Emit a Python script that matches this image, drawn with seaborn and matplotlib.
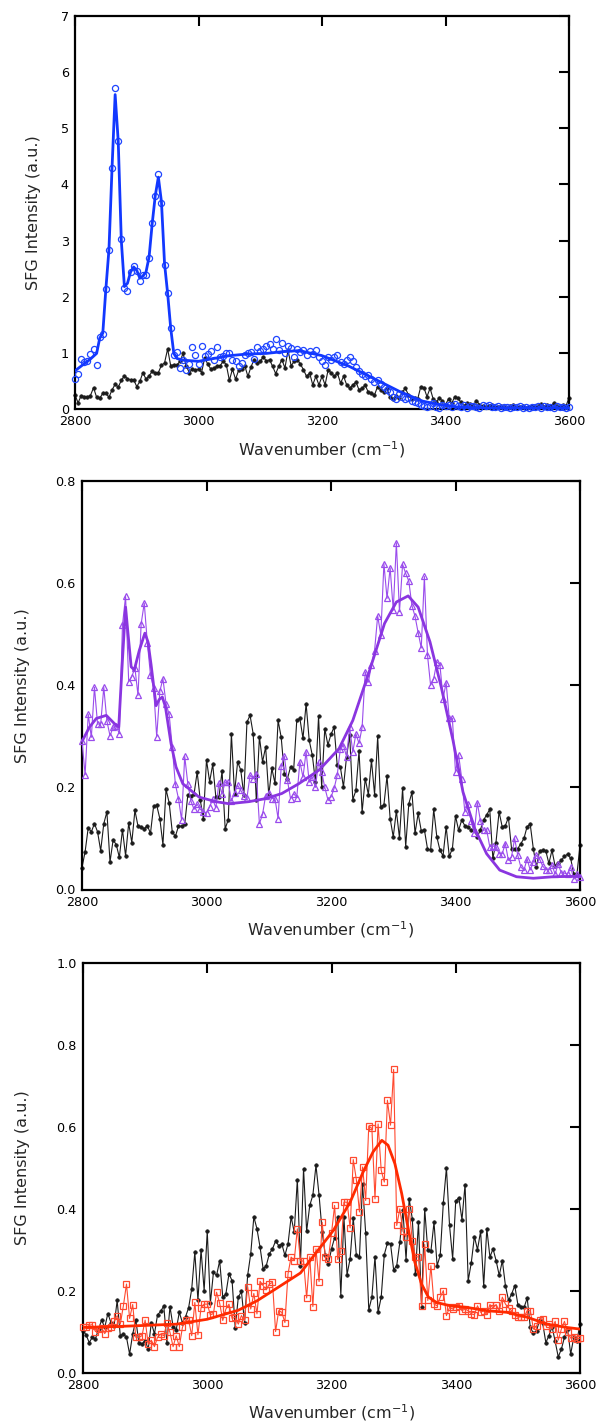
import matplotlib
matplotlib.use("Agg")
import matplotlib.pyplot as plt
from matplotlib.ticker import FormatStrFormatter
import seaborn as sns

# Wavenumber grid shared by all measured spectra (cm^-1)
wavenumber = list(range(2800, 3601, 5))

# ---- Panel 1 -------------------------------------------------------------
ref_1 = [
    0.25, 0.11, 0.24, 0.22, 0.21, 0.24, 0.38, 0.21, 0.19, 0.28,
    0.28, 0.21, 0.34, 0.44, 0.39, 0.51, 0.59, 0.54, 0.52, 0.52,
    0.40, 0.49, 0.65, 0.53, 0.59, 0.67, 0.64, 0.65, 0.78, 0.82,
    1.07, 0.77, 0.79, 0.78, 0.85, 0.99, 0.77, 0.65, 0.71, 0.70,
    0.71, 0.65, 0.91, 0.80, 0.71, 0.73, 0.76, 0.77, 0.85, 0.79,
    0.51, 0.71, 0.53, 0.69, 0.71, 0.77, 0.58, 0.75, 0.88, 0.82,
    0.85, 0.93, 0.85, 0.88, 0.76, 0.63, 0.76, 0.88, 0.73, 1.05,
    0.77, 0.85, 0.88, 0.80, 0.70, 0.58, 0.64, 0.43, 0.58, 0.43,
    0.58, 0.43, 0.70, 0.64, 0.58, 0.64, 0.46, 0.58, 0.43, 0.37,
    0.43, 0.48, 0.34, 0.37, 0.42, 0.30, 0.28, 0.25, 0.40, 0.34,
    0.30, 0.37, 0.22, 0.17, 0.24, 0.19, 0.30, 0.37, 0.25, 0.17,
    0.20, 0.18, 0.40, 0.38, 0.22, 0.37, 0.18, 0.12, 0.20, 0.14,
    0.08, 0.18, 0.10, 0.22, 0.19, 0.12, 0.06, 0.10, 0.09, 0.06,
    0.15, 0.08, 0.05, 0.03, 0.06, 0.08, 0.04, 0.03, 0.06, 0.04,
    0.02, 0.05, 0.07, 0.04, 0.03, 0.05, 0.02, 0.04, 0.06, 0.03,
    0.05, 0.09, 0.04, 0.08, 0.05, 0.10, 0.06, 0.03, 0.07, 0.05,
    0.20,
]
sample_1 = [
    0.53, 0.62, 0.89, 0.83, 0.85, 0.98, 1.07, 0.79, 1.29, 1.34,
    2.14, 2.84, 4.29, 5.72, 4.78, 3.02, 2.16, 2.10, 2.44, 2.55,
    2.46, 2.28, 2.38, 2.38, 2.69, 3.31, 3.80, 4.18, 3.67, 2.56,
    2.06, 1.44, 0.96, 1.01, 0.73, 0.88, 0.70, 0.80, 1.10, 0.97,
    0.80, 1.12, 0.95, 0.98, 1.04, 0.88, 1.10, 0.92, 0.95, 1.00,
    0.99, 0.88, 0.86, 0.77, 0.82, 0.97, 0.99, 1.02, 0.89, 1.10,
    1.03, 1.06, 1.13, 1.16, 1.07, 1.25, 1.05, 1.17, 1.00, 1.12,
    1.08, 0.92, 1.06, 1.02, 1.05, 0.97, 1.03, 0.98, 1.05, 0.92,
    0.85, 0.78, 0.92, 0.88, 0.93, 0.96, 0.84, 0.80, 0.88, 0.92,
    0.86, 0.74, 0.67, 0.62, 0.58, 0.60, 0.53, 0.48, 0.51, 0.44,
    0.40, 0.34, 0.30, 0.22, 0.17, 0.26, 0.22, 0.18, 0.20, 0.14,
    0.12, 0.10, 0.08, 0.05, 0.03, 0.06, 0.11, 0.04, 0.02, 0.08,
    0.05, 0.07, 0.04, 0.09, 0.06, 0.03, 0.07, 0.02, 0.05, 0.06,
    0.04, 0.02, 0.07, 0.05, 0.08, 0.04, 0.03, 0.05, 0.02, 0.04,
    0.03, 0.02, 0.04, 0.03, 0.05, 0.02, 0.03, 0.02, 0.04, 0.03,
    0.05, 0.02, 0.06, 0.03, 0.04, 0.02, 0.05, 0.03, 0.04, 0.02,
    0.03,
]
fit_1_x = [2800, 2813, 2824, 2835, 2840, 2845, 2850, 2855, 2860, 2865,
           2870, 2875, 2880, 2885, 2890, 2895, 2900, 2905, 2910, 2915,
           2920, 2925, 2930, 2935, 2940, 2945, 2950, 2955, 2960, 2965,
           2975, 3000, 3025, 3050, 3080, 3110, 3135, 3163, 3200, 3244,
           3288, 3326, 3363, 3390, 3417, 3460, 3600]
fit_1_y = [0.68, 0.79, 0.88, 0.99, 1.26, 1.35, 2.14, 2.84, 4.30, 5.60,
           4.77, 3.00, 2.18, 2.24, 2.44, 2.53, 2.47, 2.33, 2.37, 2.44,
           2.71, 3.30, 3.80, 4.13, 3.69, 2.59, 2.06, 1.44, 0.99, 0.90,
           0.87, 0.85, 0.90, 0.95, 0.98, 0.99, 1.02, 1.04, 0.95, 0.76,
           0.52, 0.31, 0.14, 0.08, 0.035, 0.018, 0.018]

# ---- Panel 2 -------------------------------------------------------------
ref_2 = [
    0.043, 0.074, 0.121, 0.113, 0.129, 0.113, 0.076, 0.129, 0.152, 0.054,
    0.097, 0.088, 0.063, 0.117, 0.066, 0.130, 0.092, 0.155, 0.124, 0.123,
    0.119, 0.125, 0.110, 0.163, 0.165, 0.139, 0.088, 0.196, 0.170, 0.113,
    0.104, 0.124, 0.124, 0.128, 0.185, 0.183, 0.187, 0.230, 0.175, 0.139,
    0.254, 0.211, 0.245, 0.181, 0.181, 0.232, 0.119, 0.137, 0.305, 0.188,
    0.250, 0.234, 0.185, 0.328, 0.341, 0.305, 0.175, 0.299, 0.250, 0.279,
    0.185, 0.237, 0.208, 0.331, 0.298, 0.227, 0.217, 0.240, 0.234, 0.331,
    0.335, 0.296, 0.364, 0.292, 0.263, 0.211, 0.339, 0.201, 0.315, 0.283,
    0.304, 0.318, 0.243, 0.240, 0.201, 0.260, 0.302, 0.176, 0.194, 0.271,
    0.152, 0.217, 0.186, 0.253, 0.186, 0.300, 0.162, 0.166, 0.222, 0.139,
    0.103, 0.154, 0.101, 0.198, 0.084, 0.168, 0.190, 0.110, 0.149, 0.115,
    0.117, 0.080, 0.077, 0.157, 0.103, 0.077, 0.066, 0.123, 0.065, 0.080,
    0.144, 0.116, 0.136, 0.125, 0.123, 0.116, 0.116, 0.103, 0.117, 0.136,
    0.146, 0.157, 0.061, 0.092, 0.152, 0.123, 0.125, 0.141, 0.080, 0.080,
    0.080, 0.090, 0.100, 0.123, 0.128, 0.080, 0.044, 0.076, 0.077, 0.076,
    0.051, 0.077, 0.046, 0.051, 0.057, 0.065, 0.069, 0.061, 0.030, 0.029,
    0.087,
]
sample_2 = [
    0.290, 0.225, 0.343, 0.298, 0.396, 0.324, 0.324, 0.396, 0.330, 0.301,
    0.318, 0.320, 0.305, 0.518, 0.574, 0.407, 0.417, 0.434, 0.380, 0.520,
    0.561, 0.483, 0.420, 0.395, 0.299, 0.388, 0.413, 0.364, 0.343, 0.279,
    0.206, 0.178, 0.136, 0.261, 0.207, 0.173, 0.157, 0.167, 0.157, 0.152,
    0.150, 0.162, 0.177, 0.160, 0.209, 0.188, 0.210, 0.210, 0.173, 0.189,
    0.204, 0.194, 0.184, 0.180, 0.224, 0.217, 0.227, 0.129, 0.147, 0.184,
    0.189, 0.178, 0.178, 0.139, 0.241, 0.261, 0.214, 0.178, 0.188, 0.180,
    0.250, 0.220, 0.270, 0.210, 0.220, 0.200, 0.250, 0.230, 0.200, 0.176,
    0.181, 0.198, 0.224, 0.276, 0.282, 0.260, 0.318, 0.269, 0.305, 0.286,
    0.318, 0.426, 0.406, 0.440, 0.468, 0.536, 0.498, 0.638, 0.570, 0.630,
    0.547, 0.679, 0.544, 0.637, 0.619, 0.604, 0.556, 0.535, 0.503, 0.473,
    0.613, 0.459, 0.400, 0.413, 0.446, 0.440, 0.374, 0.405, 0.335, 0.335,
    0.230, 0.264, 0.217, 0.152, 0.168, 0.135, 0.110, 0.170, 0.135, 0.116,
    0.117, 0.084, 0.085, 0.084, 0.070, 0.070, 0.090, 0.057, 0.064, 0.100,
    0.067, 0.044, 0.038, 0.060, 0.038, 0.054, 0.067, 0.060, 0.046, 0.039,
    0.038, 0.048, 0.030, 0.050, 0.032, 0.032, 0.030, 0.044, 0.020, 0.030,
    0.025,
]
fit_2_x = [2800, 2812, 2823, 2839, 2852, 2859, 2865, 2870, 2874, 2879,
           2884, 2892, 2901, 2906, 2911, 2919, 2924, 2929, 2934, 2943,
           2951, 2962, 2988, 3015, 3036, 3068, 3095, 3121, 3148, 3181,
           3213, 3235, 3262, 3286, 3305, 3324, 3340, 3359, 3377, 3396,
           3412, 3431, 3450, 3471, 3498, 3525, 3557, 3600]
fit_2_y = [0.290, 0.318, 0.335, 0.341, 0.325, 0.318, 0.450, 0.553, 0.500, 0.436,
           0.430, 0.468, 0.502, 0.485, 0.440, 0.360, 0.372, 0.377, 0.358, 0.286,
           0.240, 0.207, 0.181, 0.172, 0.168, 0.172, 0.178, 0.188, 0.207, 0.234,
           0.276, 0.331, 0.429, 0.521, 0.563, 0.575, 0.553, 0.485, 0.397, 0.292,
           0.191, 0.119, 0.070, 0.038, 0.025, 0.022, 0.025, 0.026]

# ---- Panel 3 -------------------------------------------------------------
ref_3 = [
    0.102, 0.092, 0.073, 0.086, 0.082, 0.106, 0.128, 0.110, 0.144, 0.122,
    0.114, 0.176, 0.090, 0.094, 0.086, 0.045, 0.094, 0.128, 0.073, 0.069,
    0.078, 0.057, 0.122, 0.094, 0.141, 0.149, 0.163, 0.073, 0.161, 0.112,
    0.104, 0.147, 0.122, 0.136, 0.158, 0.204, 0.294, 0.176, 0.300, 0.200,
    0.345, 0.169, 0.245, 0.237, 0.273, 0.184, 0.192, 0.241, 0.224, 0.109,
    0.184, 0.198, 0.122, 0.237, 0.290, 0.380, 0.351, 0.306, 0.253, 0.261,
    0.290, 0.302, 0.321, 0.310, 0.314, 0.286, 0.314, 0.380, 0.343, 0.471,
    0.261, 0.498, 0.345, 0.408, 0.433, 0.506, 0.433, 0.343, 0.286, 0.265,
    0.302, 0.329, 0.380, 0.188, 0.380, 0.239, 0.278, 0.378, 0.286, 0.282,
    0.461, 0.340, 0.153, 0.184, 0.283, 0.147, 0.184, 0.288, 0.316, 0.314,
    0.251, 0.261, 0.318, 0.396, 0.275, 0.424, 0.376, 0.241, 0.367, 0.161,
    0.400, 0.298, 0.296, 0.367, 0.261, 0.286, 0.414, 0.500, 0.359, 0.278,
    0.419, 0.427, 0.373, 0.459, 0.224, 0.268, 0.332, 0.300, 0.345, 0.212,
    0.351, 0.282, 0.302, 0.273, 0.237, 0.273, 0.212, 0.176, 0.192, 0.212,
    0.166, 0.161, 0.159, 0.182, 0.110, 0.096, 0.102, 0.128, 0.120, 0.073,
    0.090, 0.112, 0.076, 0.038, 0.057, 0.086, 0.106, 0.045, 0.086, 0.078,
    0.118,
]
sample_3 = [
    0.112, 0.110, 0.115, 0.117, 0.100, 0.106, 0.109, 0.095, 0.109, 0.112,
    0.125, 0.139, 0.118, 0.163, 0.216, 0.132, 0.166, 0.086, 0.086, 0.090,
    0.128, 0.069, 0.079, 0.063, 0.086, 0.094, 0.090, 0.120, 0.098, 0.063,
    0.090, 0.063, 0.110, 0.128, 0.128, 0.090, 0.171, 0.092, 0.158, 0.167,
    0.167, 0.141, 0.144, 0.196, 0.169, 0.127, 0.155, 0.167, 0.132, 0.135,
    0.118, 0.139, 0.127, 0.210, 0.155, 0.193, 0.143, 0.223, 0.212, 0.202,
    0.216, 0.220, 0.100, 0.151, 0.147, 0.122, 0.241, 0.282, 0.273, 0.351,
    0.273, 0.272, 0.182, 0.283, 0.161, 0.302, 0.222, 0.367, 0.282, 0.278,
    0.340, 0.408, 0.276, 0.296, 0.416, 0.416, 0.353, 0.520, 0.471, 0.392,
    0.502, 0.420, 0.602, 0.596, 0.424, 0.607, 0.494, 0.465, 0.665, 0.604,
    0.740, 0.359, 0.400, 0.345, 0.331, 0.400, 0.322, 0.283, 0.282, 0.163,
    0.313, 0.176, 0.261, 0.167, 0.163, 0.184, 0.200, 0.139, 0.159, 0.155,
    0.161, 0.163, 0.151, 0.155, 0.151, 0.143, 0.141, 0.163, 0.147, 0.151,
    0.141, 0.166, 0.158, 0.166, 0.151, 0.184, 0.167, 0.158, 0.151, 0.141,
    0.135, 0.136, 0.135, 0.151, 0.151, 0.106, 0.114, 0.128, 0.131, 0.114,
    0.118, 0.106, 0.125, 0.079, 0.106, 0.125, 0.098, 0.084, 0.086, 0.082,
    0.084,
]
fit_3_x = [2800, 2850, 2900, 2950, 3000, 3050, 3080, 3110, 3150, 3176,
           3203, 3230, 3251, 3267, 3281, 3291, 3302, 3313, 3324, 3334,
           3345, 3356, 3369, 3391, 3418, 3450, 3482, 3515, 3547, 3579, 3600]
fit_3_y = [0.110, 0.112, 0.115, 0.118, 0.130, 0.152, 0.175, 0.204, 0.243, 0.294,
           0.347, 0.416, 0.490, 0.539, 0.567, 0.555, 0.510, 0.437, 0.347, 0.270,
           0.216, 0.184, 0.171, 0.163, 0.159, 0.151, 0.147, 0.135, 0.118, 0.110,
           0.106]

for series in (ref_1, sample_1, ref_2, sample_2, ref_3, sample_3):
    assert len(series) == len(wavenumber), len(series)

sns.set_style("white")
plt.rcParams["font.family"] = ["DejaVu Sans"]
plt.rcParams["mathtext.fontset"] = "dejavusans"

W, H = 599, 1426
fig = plt.figure(figsize=(W / 100, H / 100), dpi=100)

# axes boxes in pixels: left, top, right, bottom
boxes = [(75, 16, 569, 409), (82, 481, 580, 889.5), (83, 963, 580, 1372.5)]
axes = []
for (l, t, r, b) in boxes:
    axes.append(fig.add_axes([l / W, (H - b) / H, (r - l) / W, (b - t) / H]))

black = "#1b1b1b"
panels = [
    dict(ref=ref_1, data=sample_1, fx=fit_1_x, fy=fit_1_y,
         color="#1f45ff", fit_color="#1238ff", marker="o", ms=4.4,
         connect=False, ylim=7, yticks=[0, 1, 2, 3, 4, 5, 6, 7], fmt="%d",
         ylab_x=41),
    dict(ref=ref_2, data=sample_2, fx=fit_2_x, fy=fit_2_y,
         color="#9a4cec", fit_color="#8a35e0", marker="^", ms=4.4,
         connect=True, ylim=0.8, yticks=[0.0, 0.2, 0.4, 0.6, 0.8], fmt="%.1f",
         ylab_x=30),
    dict(ref=ref_3, data=sample_3, fx=fit_3_x, fy=fit_3_y,
         color="#ff4a30", fit_color="#ff2a00", marker="s", ms=4.0,
         connect=True, ylim=1.0, yticks=[0.0, 0.2, 0.4, 0.6, 0.8, 1.0], fmt="%.1f",
         ylab_x=30),
]

for ax, p, (l, t, r, b) in zip(axes, panels, boxes):
    # reference spectrum: small filled dots joined by a thin line
    sns.lineplot(x=wavenumber, y=p["ref"], ax=ax, color=black, linewidth=0.8,
                 marker="o", markersize=2.6, markerfacecolor=black,
                 markeredgecolor=black, markeredgewidth=0.4, clip_on=False,
                 zorder=2)
    # measured spectrum: open markers
    sns.lineplot(x=wavenumber, y=p["data"], ax=ax, color=p["color"],
                 linewidth=0.8 if p["connect"] else 0,
                 linestyle="-" if p["connect"] else "none",
                 marker=p["marker"], markersize=p["ms"],
                 markerfacecolor="none", markeredgecolor=p["color"],
                 markeredgewidth=0.9, clip_on=False, zorder=3)
    # fitted curve
    sns.lineplot(x=p["fx"], y=p["fy"], ax=ax, color=p["fit_color"],
                 linewidth=2.0, zorder=4)

    ax.set_xlim(2800, 3600)
    ax.set_ylim(0, p["ylim"])
    ax.set_xticks([2800, 3000, 3200, 3400, 3600])
    ax.set_yticks(p["yticks"])
    ax.yaxis.set_major_formatter(FormatStrFormatter(p["fmt"]))
    ax.tick_params(direction="in", length=7, width=1.5, top=True, right=True,
                   labelsize=9.2, pad=4.5, colors="black")
    ax.tick_params(axis="x", labeltop=False)
    ax.tick_params(axis="y", labelright=False)
    for sp in ax.spines.values():
        sp.set_visible(True)
        sp.set_linewidth(1.6)
        sp.set_color("black")

    hpx = b - t
    wpx = r - l
    ax.set_xlabel("Wavenumber (cm$^{-1}$)", fontsize=11.5)
    ax.xaxis.set_label_coords(0.5, -30 / hpx)
    ax.set_ylabel("SFG Intensity (a.u.)", fontsize=11.5)
    ax.yaxis.set_label_coords((p["ylab_x"] - l) / wpx, 0.5)

fig.savefig("out.png", dpi=100)
